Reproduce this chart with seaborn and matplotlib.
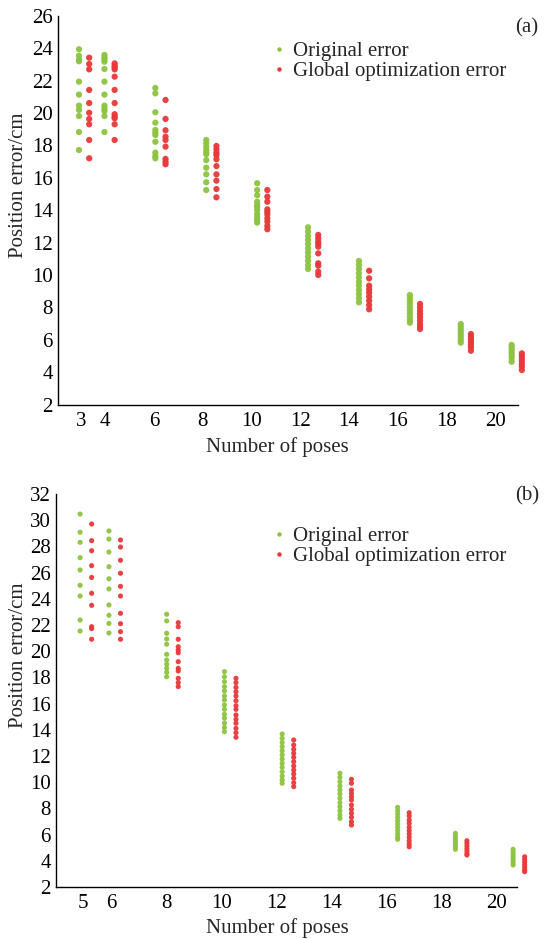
import numpy as np
import pandas as pd
import matplotlib
matplotlib.use("Agg")
import matplotlib.pyplot as plt
import seaborn as sns
from matplotlib.lines import Line2D

# ---------------- data: panel (a) ----------------
poses_a = [3, 4, 6, 8, 10, 12, 14, 16, 18, 20]
orig_a = [
    [23.94, 23.54, 23.3, 23.2, 21.94, 21.14, 20.46, 20.2, 19.82, 18.83, 17.72],
    [23.59, 23.44, 23.32, 23.17, 22.72, 21.94, 21.14, 20.46, 20.27, 20.13, 19.82, 18.83],
    [21.55, 21.22, 20.05, 19.41, 18.96, 18.79, 18.65, 18.23, 17.56, 17.35, 17.21],
    [18.34, 18.14, 17.93, 17.72, 17.58, 17.46, 17.10, 16.63, 16.22, 15.73, 15.25],
    [15.67, 15.25, 14.93, 14.53, 14.33, 14.19, 14.02, 13.77, 13.57, 13.40, 13.24],
    [12.95, 12.68, 12.41, 12.17, 11.92, 11.65, 11.40, 11.14, 10.89, 10.62, 10.38],
    [10.87, 10.62, 10.38, 10.11, 9.86, 9.59, 9.35, 9.08, 8.83, 8.57, 8.32],
    [8.77, 8.57, 8.40, 8.22, 8.01, 7.80, 7.64, 7.43, 7.23, 7.06],
    [6.98, 6.81, 6.65, 6.49, 6.32, 6.16, 5.99, 5.83],
    [5.69, 5.54, 5.38, 5.21, 5.05, 4.88, 4.65],
]
glob_a = [
    [23.42, 23.03, 22.70, 21.43, 20.62, 20.02, 19.64, 19.31, 18.34, 17.21],
    [23.07, 22.93, 22.83, 22.70, 22.25, 21.43, 20.62, 19.93, 19.78, 19.68, 19.31, 18.34],
    [20.81, 19.64, 18.94, 18.54, 18.34, 17.93, 17.17, 17.0, 16.84],
    [17.97, 17.77, 17.56, 17.41, 17.15, 16.73, 16.22, 15.83, 15.31, 14.80],
    [15.25, 14.84, 14.53, 14.06, 13.91, 13.75, 13.51, 13.30, 13.03, 12.83],
    [12.48, 12.27, 12.06, 11.92, 11.75, 11.34, 10.73, 10.58, 10.21, 10.01],
    [10.27, 9.80, 9.35, 9.12, 8.91, 8.67, 8.42, 8.15, 7.89],
    [8.22, 8.01, 7.80, 7.60, 7.40, 7.19, 6.98, 6.81, 6.67],
    [6.36, 6.20, 6.04, 5.87, 5.70, 5.54, 5.33],
    [5.17, 5.01, 4.84, 4.68, 4.51, 4.35, 4.14],
]
yticks_a = list(range(2, 27, 2))

# ---------------- data: panel (b) ----------------
poses_b = [5, 6, 8, 10, 12, 14, 16, 18, 20]
orig_b = [
    [30.47, 29.08, 28.31, 27.14, 26.20, 25.03, 24.21, 22.38, 21.54],
    [29.18, 28.56, 27.57, 26.45, 25.53, 24.75, 23.53, 22.74, 22.12, 21.39],
    [22.82, 22.31, 21.37, 20.93, 20.53, 19.76, 19.33, 19.00, 18.69, 18.39, 18.05],
    [18.44, 18.05, 17.67, 17.29, 16.96, 16.58, 16.27, 15.89, 15.56, 15.18, 14.88, 14.50, 14.17, 13.86],
    [13.68, 13.35, 13.02, 12.71, 12.40, 12.08, 11.77, 11.44, 11.14, 10.80, 10.47, 10.17, 9.92],
    [10.68, 10.37, 10.04, 9.71, 9.40, 9.10, 8.77, 8.44, 8.13, 7.82, 7.50, 7.24],
    [8.08, 7.82, 7.57, 7.32, 7.06, 6.81, 6.56, 6.30, 6.05, 5.80, 5.64],
    [6.10, 5.89, 5.69, 5.49, 5.28, 5.08, 4.88],
    [4.88, 4.67, 4.47, 4.27, 4.06, 3.86, 3.68],
]
glob_b = [
    [29.71, 28.44, 27.67, 26.53, 25.63, 24.42, 23.50, 21.87, 21.72, 20.91],
    [28.49, 27.95, 26.94, 25.95, 24.95, 24.21, 22.89, 22.10, 21.49, 20.91],
    [22.18, 21.87, 20.91, 20.34, 20.09, 19.88, 19.20, 18.69, 18.49, 17.93, 17.6, 17.3],
    [17.93, 17.60, 17.24, 16.91, 16.58, 16.22, 15.84, 15.56, 15.13, 14.80, 14.50, 14.11, 13.78, 13.43],
    [13.22, 12.84, 12.51, 12.21, 11.90, 11.57, 11.24, 10.93, 10.63, 10.30, 9.96, 9.66],
    [10.22, 9.92, 9.40, 9.15, 8.89, 8.64, 8.26, 7.93, 7.63, 7.32, 6.98, 6.73],
    [7.67, 7.42, 7.11, 6.86, 6.56, 6.30, 6.05, 5.80, 5.53, 5.28, 5.07],
    [5.53, 5.34, 5.13, 4.92, 4.72, 4.52, 4.44],
    [4.31, 4.11, 3.91, 3.70, 3.50, 3.30, 3.17],
]
yticks_b = list(range(2, 33, 2))

series_names = ["Original error", "Global optimization error"]
colors = ["#8CC43F", "#E8383A"]
xlabel = "Number of poses"
ylabel = "Position error/cm"


def long_frame(poses, orig, glob):
    rows = []
    for p, vals in zip(poses, orig):
        rows += [(p, v, series_names[0]) for v in vals]
    for p, vals in zip(poses, glob):
        rows += [(p, v, series_names[1]) for v in vals]
    return pd.DataFrame(rows, columns=["poses", "error", "type"])


sns.set_style("white")
plt.rcParams["font.family"] = ["Liberation Serif", "DejaVu Serif"]
plt.rcParams["font.size"] = 15

W, H = 544, 939
fig = plt.figure(figsize=(W / 100, H / 100), dpi=100)


def px_axes(l, r, t, b):
    return fig.add_axes([l / W, 1 - b / H, (r - l) / W, (b - t) / H])


def draw_panel(ax, poses, orig, glob, yticks, pt_a, pt_b, tk_a, tk_b,
               left_px, right_px, axis_end_px, msize, leg_xy, label_xy, ylab_xy, xlab_xy, tag):
    df = long_frame(poses, orig, glob)
    sns.stripplot(data=df, x="poses", y="error", hue="type", hue_order=series_names,
                  palette=colors, native_scale=True, dodge=True, jitter=False,
                  size=msize, linewidth=0, alpha=0.95, legend=False, ax=ax, clip_on=False)
    # data-x -> pixel: pt_a + pt_b * x ; tick value -> pixel: tk_a + tk_b * v
    ax.set_xlim((left_px - pt_a) / pt_b, (right_px - pt_a) / pt_b)
    ax.set_ylim(yticks[0], yticks[-1])
    tick_pos = [(tk_a + tk_b * v - pt_a) / pt_b for v in poses]
    ax.set_xticks(tick_pos, [str(v) for v in poses])
    ax.set_yticks(yticks, [str(v) for v in yticks])
    for s in ["top", "right"]:
        ax.spines[s].set_visible(False)
    for s in ["left", "bottom"]:
        ax.spines[s].set_color("black")
        ax.spines[s].set_linewidth(1.0)
    ax.spines["bottom"].set_bounds((left_px - pt_a) / pt_b, (axis_end_px - pt_a) / pt_b)
    ax.tick_params(axis="both", direction="in", length=4, width=0.9, color="black",
                   labelsize=15, labelcolor="black")
    ax.tick_params(axis="x", pad=5)
    ax.tick_params(axis="y", pad=3.5)
    ax.set_xlabel("")
    ax.set_ylabel("")
    ax.grid(False)
    fig.text(xlab_xy[0] / W, 1 - xlab_xy[1] / H, xlabel, ha="center", va="center", fontsize=15)
    fig.text(ylab_xy[0] / W, 1 - ylab_xy[1] / H, ylabel, ha="center", va="center",
             rotation=90, fontsize=15)
    fig.text(label_xy[0] / W, 1 - label_xy[1] / H, tag, ha="center", va="center", fontsize=15)
    handles = [Line2D([], [], marker="o", ls="", color=c, markersize=3.2, markeredgewidth=0)
               for c in colors]
    ax.legend(handles, series_names, loc="upper left",
              bbox_to_anchor=(leg_xy[0] / W, 1 - leg_xy[1] / H), bbox_transform=fig.transFigure,
              frameon=False, fontsize=15, handlelength=0.5, handletextpad=0.42,
              labelspacing=0.02, borderpad=0, borderaxespad=0)


ax_a = px_axes(57.5, 525.7, 15.9, 404.7)
draw_panel(ax_a, poses_a, orig_a, glob_a, yticks_a,
           pt_a=7.75, pt_b=25.45, tk_a=7.5, tk_b=24.4,
           left_px=57.5, right_px=525.7, axis_end_px=518, msize=4.5,
           leg_xy=(273.8, 41.5), label_xy=(527, 28), ylab_xy=(18.5, 185),
           xlab_xy=(277.5, 447), tag="(a)")

ax_b = px_axes(55.5, 529.0, 494.0, 887.0)
draw_panel(ax_b, poses_b, orig_b, glob_b, yticks_b,
           pt_a=-58.5, pt_b=28.87, tk_a=-54.6, tk_b=27.58,
           left_px=55.5, right_px=529.0, axis_end_px=517, msize=3.7,
           leg_xy=(273.8, 526.5), label_xy=(527, 496), ylab_xy=(18.5, 655),
           xlab_xy=(277, 928), tag="(b)")

fig.savefig("out.png", dpi=100, facecolor="white")
